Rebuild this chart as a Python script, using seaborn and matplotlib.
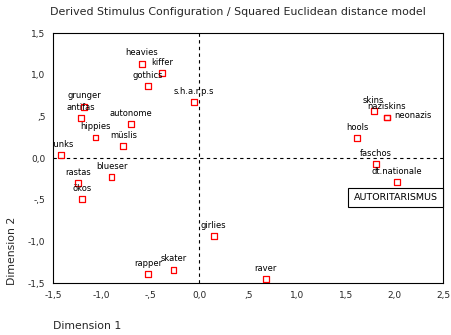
import matplotlib
matplotlib.use("Agg")
import matplotlib.pyplot as plt
import seaborn as sns
import pandas as pd

# Stimulus coordinates in the two-dimensional solution
names = ["heavies", "kiffer", "gothics", "s.h.a.r.p.s", "grunger", "antifas",
         "autonome", "hippies", "müslis", "punks", "blueser", "rastas", "ökos",
         "girlies", "rapper", "skater", "raver", "skins", "naziskins",
         "neonazis", "hools", "faschos", "dt.nationale"]
dim1 = [-0.59, -0.385, -0.527, -0.058, -1.18, -1.21,
        -0.70, -1.064, -0.78, -1.415, -0.90, -1.24, -1.20,
        0.146, -0.524, -0.265, 0.68, 1.786, 1.92,
        1.92, 1.616, 1.813, 2.024]
dim2 = [1.132, 1.02, 0.864, 0.672, 0.62, 0.48,
        0.408, 0.25, 0.144, 0.036, -0.228, -0.30, -0.49,
        -0.936, -1.39, -1.34, -1.452, 0.564, 0.49,
        0.49, 0.24, -0.072, -0.288]

x_ticks = [-1.5, -1.0, -0.5, 0.0, 0.5, 1.0, 1.5, 2.0, 2.5]
x_tick_labels = ["-1,5", "-1,0", "-,5", "0,0", ",5", "1,0", "1,5", "2,0", "2,5"]
y_ticks = [-1.5, -1.0, -0.5, 0.0, 0.5, 1.0, 1.5]
y_tick_labels = ["-1,5", "-1,0", "-,5", "0,0", ",5", "1,0", "1,5"]

df = pd.DataFrame({"name": names, "dim1": dim1, "dim2": dim2})

sns.set_style("white")
plt.rcParams["font.family"] = ["DejaVu Sans"]

fig = plt.figure(figsize=(4.52, 3.35), dpi=100)
ax = fig.add_axes([53 / 452, 1 - 283.3 / 335, 390.3 / 452, 250 / 335])

ax.axhline(0, color="black", lw=0.8, ls=(0, (3, 3)), zorder=1)
ax.axvline(0, color="black", lw=0.8, ls=(0, (3, 3)), zorder=1)

sns.scatterplot(data=df, x="dim1", y="dim2", ax=ax, marker="s", s=18,
                facecolor="none", edgecolor="#ff0000", linewidth=0.9,
                zorder=3, legend=False)

# label placement: centred above each point; neonazis sits to the right
for n, xv, yv in zip(names, dim1, dim2):
    if n == "neonazis":
        dx, dy, ha = 5.5, 1.5, "left"
    else:
        dx, dy, ha = 0, 8, "center"
    ax.annotate(n, (xv, yv), xytext=(dx, dy), textcoords="offset points",
                ha=ha, va="center", fontsize=6, color="black",
                clip_on=True, zorder=4)

ax.text(2.01, -0.468, "AUTORITARISMUS", ha="center", va="center",
        fontsize=6.8, color="black", zorder=5,
        bbox=dict(boxstyle="square,pad=0.55", fc="white", ec="black", lw=0.8))

ax.set_xlim(-1.5, 2.5)
ax.set_ylim(-1.5, 1.5)
ax.set_xticks(x_ticks)
ax.set_xticklabels(x_tick_labels)
ax.set_yticks(y_ticks)
ax.set_yticklabels(y_tick_labels)
ax.tick_params(axis="both", direction="out", length=2.5, width=2.5,
               color="black", labelsize=6.5, pad=3)
for sp in ax.spines.values():
    sp.set_visible(True)
    sp.set_color("black")
    sp.set_linewidth(0.8)
ax.set_xlabel("")
ax.set_ylabel("")

fig.text(238 / 452, 1 - 12 / 335, "Derived Stimulus Configuration / Squared Euclidean distance model",
         ha="center", va="center", fontsize=7.9)
fig.text(53 / 452, 1 - 326 / 335, "Dimension 1", ha="left", va="center", fontsize=7.8)
fig.text(12 / 452, 1 - 285 / 335, "Dimension 2", ha="center", va="bottom",
         rotation=90, fontsize=7.8)

fig.savefig("out.png", dpi=100)
